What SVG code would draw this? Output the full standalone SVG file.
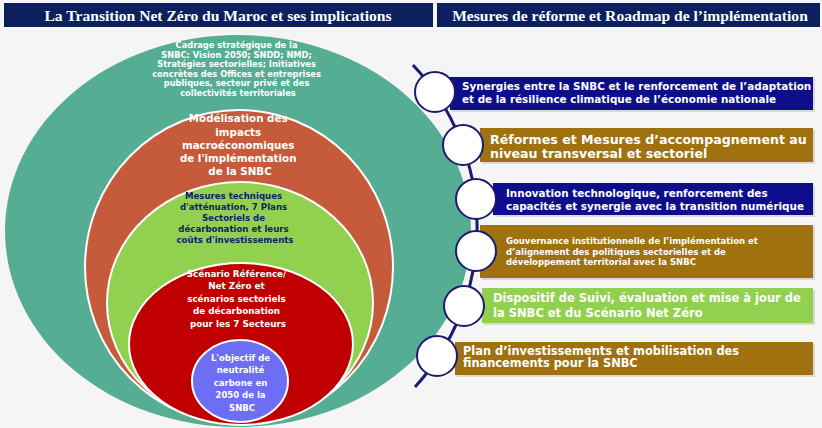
<svg xmlns="http://www.w3.org/2000/svg" width="822" height="428" viewBox="0 0 822 428">
<style>
.hdr{fill:#0c1f5e}
.htxt{font-family:"Liberation Serif","DejaVu Serif",serif;font-weight:bold;font-size:15.6px;fill:#fff;text-anchor:middle}
.ring{stroke:#fff;stroke-width:2}
.ct{font-family:"DejaVu Sans","Liberation Sans",sans-serif;font-weight:bold;text-anchor:middle}
.bt{font-family:"DejaVu Sans","Liberation Sans",sans-serif;font-weight:bold;fill:#fff}
.navy{fill:#0e0e8c}
.brown{fill:#a0710f}
.lime{fill:#92d050}
.shadow{fill:#d9d9d9}
.dot{fill:#fff;stroke:#1a1a70;stroke-width:2}
.chain{fill:none;stroke:#1a1a70;stroke-width:3}
</style>
<rect x="0" y="0" width="822" height="428" fill="#f5f5f5"/>

<g id="header-left">
<rect class="hdr" x="4" y="3" width="429" height="24"/>
<text class="htxt" x="218" y="20.5">La Transition Net Zéro du Maroc et ses implications</text>
</g>
<g id="header-right">
<rect class="hdr" x="437" y="3" width="383" height="24"/>
<text class="htxt" x="630" y="20.5">Mesures de réforme et Roadmap de l’implémentation</text>
</g>

<g id="ring-cadrage">
<ellipse cx="238" cy="231" rx="233" ry="196" fill="#55ad93"/>
<text class="ct" font-size="8.3" fill="#fff">
<tspan x="238" y="48">Cadrage stratégique de la</tspan>
<tspan x="238" y="57.5">SNBC: Vision 2050; SNDD; NMD;</tspan>
<tspan x="238" y="67">Stratégies sectorielles; Initiatives</tspan>
<tspan x="238" y="76.5">concrètes des Offices et entreprises</tspan>
<tspan x="238" y="86">publiques, secteur privé et des</tspan>
<tspan x="238" y="95.5">collectivités territoriales</tspan>
</text>
</g>
<g id="ring-modelisation">
<ellipse class="ring" cx="239" cy="267" rx="154" ry="157" fill="#c65b3b"/>
<text class="ct" font-size="10.3" fill="#fff">
<tspan x="240" y="122">Modélisation des</tspan>
<tspan x="240" y="135.5">impacts</tspan>
<tspan x="240" y="149">macroéconomiques</tspan>
<tspan x="240" y="162">de l'implémentation</tspan>
<tspan x="240" y="175">de la SNBC</tspan>
</text>
</g>
<g id="ring-mesures">
<ellipse class="ring" cx="240" cy="303" rx="133" ry="121" fill="#92d050"/>
<text class="ct" font-size="8.6" fill="#10206a">
<tspan x="235" y="198.5">Mesures techniques</tspan>
<tspan x="235" y="209.5">d'atténuation, 7 Plans</tspan>
<tspan x="235" y="220.5">Sectoriels de</tspan>
<tspan x="235" y="231.5">décarbonation et leurs</tspan>
<tspan x="235" y="242.5">coûts d'investissements</tspan>
</text>
</g>
<g id="ring-scenario">
<ellipse class="ring" cx="241" cy="344" rx="112" ry="81" fill="#c00000"/>
<text class="ct" font-size="8.8" fill="#fff">
<tspan x="238" y="276.5">Scénario Référence/</tspan>
<tspan x="238" y="289">Net Zéro et</tspan>
<tspan x="238" y="301.5">scénarios sectoriels</tspan>
<tspan x="238" y="314">de décarbonation</tspan>
<tspan x="238" y="326.5">pour les 7 Secteurs</tspan>
</text>
</g>
<g id="ring-objectif">
<ellipse class="ring" cx="240" cy="381" rx="48" ry="41" fill="#6e6ef4"/>
<text class="ct" font-size="8.5" fill="#fff">
<tspan x="242" y="360.5">L'objectif de</tspan>
<tspan x="242" y="373">neutralité</tspan>
<tspan x="242" y="385.5">carbone en</tspan>
<tspan x="242" y="398">2050 de la</tspan>
<tspan x="242" y="410.5">SNBC</tspan>
</text>
</g>

<g id="bar-1">
<rect class="shadow" x="452" y="79" width="363" height="33"/>
<rect class="navy" x="450" y="77" width="363" height="33"/>
<text class="bt" font-size="10.4"><tspan x="462" y="90">Synergies entre la SNBC et le renforcement de l’adaptation</tspan><tspan x="462" y="103">et de la résilience climatique de l’économie nationale</tspan></text>
</g>
<g id="bar-2">
<rect class="shadow" x="482" y="130" width="333" height="34"/>
<rect class="brown" x="480" y="128" width="333" height="34"/>
<text class="bt" font-size="12.6"><tspan x="490" y="143.5">Réformes et Mesures d’accompagnement au</tspan><tspan x="490" y="157.5">niveau transversal et sectoriel</tspan></text>
</g>
<g id="bar-3">
<rect class="shadow" x="495" y="185" width="320" height="32"/>
<rect class="navy" x="493" y="183" width="320" height="32"/>
<text class="bt" font-size="10.4"><tspan x="506" y="196.5">Innovation technologique, renforcement des</tspan><tspan x="506" y="209.5">capacités et synergie avec la transition numérique</tspan></text>
</g>
<g id="bar-4">
<rect class="shadow" x="482" y="227" width="333" height="53"/>
<rect class="brown" x="480" y="225" width="333" height="53"/>
<text class="bt" font-size="8.5"><tspan x="506" y="244">Gouvernance institutionnelle de l’implémentation et</tspan><tspan x="506" y="254.5">d’alignement des politiques sectorielles et de</tspan><tspan x="506" y="265">développement territorial avec la SNBC</tspan></text>
</g>
<g id="bar-5">
<rect class="shadow" x="484" y="290" width="331" height="35"/>
<rect class="lime" x="482" y="288" width="331" height="35"/>
<text class="bt" font-size="11.5"><tspan x="493" y="302">Dispositif de Suivi, évaluation et mise à jour de</tspan><tspan x="493" y="317">la SNBC et du Scénario Net Zéro</tspan></text>
</g>
<g id="bar-6">
<rect class="shadow" x="457" y="344" width="358" height="33"/>
<rect class="brown" x="455" y="342" width="358" height="33"/>
<text class="bt" font-size="11.4"><tspan x="463" y="354.5">Plan d’investissements et mobilisation des</tspan><tspan x="463" y="367">financements pour la SNBC</tspan></text>
</g>

<g id="connectors">
<path class="chain" d="M413,65 A237,237 0 0 1 415,387"/>
</g>

<g id="dot-1"><circle class="dot" cx="435" cy="92" r="20"/></g>
<g id="dot-2"><circle class="dot" cx="463" cy="145" r="20"/></g>
<g id="dot-3"><circle class="dot" cx="476" cy="199" r="20"/></g>
<g id="dot-4"><circle class="dot" cx="476" cy="251" r="20"/></g>
<g id="dot-5"><circle class="dot" cx="464" cy="306" r="20"/></g>
<g id="dot-6"><circle class="dot" cx="437" cy="356" r="20"/></g>
</svg>
